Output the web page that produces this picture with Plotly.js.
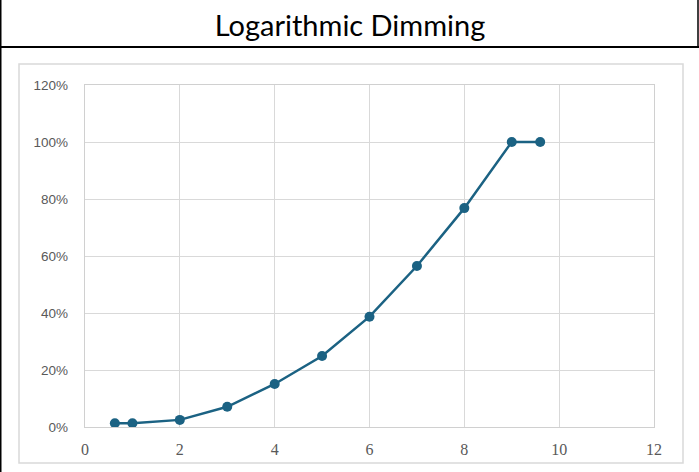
<!DOCTYPE html>
<html>
<head>
<meta charset="utf-8">
<script src="https://cdn.plot.ly/plotly-3.0.1.min.js"></script>
<style>html,body{margin:0;padding:0;background:#fff;}#chart{width:699px;height:472px;}</style>
</head>
<body>
<div id="chart"></div>
<script>
const chartTitle = "Logarithmic Dimming";
const stepValues = [0.63, 1, 2, 3, 4, 5, 6, 7, 8, 9, 9.6];
const brightness = [0.013, 0.013, 0.025, 0.071, 0.151, 0.249, 0.387, 0.565, 0.768, 1.0, 1.0];
const yTicks = [0, 0.2, 0.4, 0.6, 0.8, 1.0, 1.2];
const yTickLabels = ["0%", "20%", "40%", "60%", "80%", "100%", "120%"];
const xTicks = [0, 2, 4, 6, 8, 10, 12];

const W = 699, H = 472, L = 85, R = 654, T = 85, B = 427;
const px = v => (v - L) / (R - L);
const py = v => (B - v) / (B - T);

const trace = {
  x: stepValues, y: brightness, type: 'scatter', mode: 'lines+markers',
  line: {color: '#1b6283', width: 2.5},
  marker: {color: '#1b6283', size: 10},
  hoverinfo: 'x+y'
};

const layout = {
  width: W, height: H,
  margin: {l: L, r: W - R, t: T, b: H - B},
  paper_bgcolor: '#fff', plot_bgcolor: '#fff',
  showlegend: false,
  title: {text: chartTitle, x: 350 / W, xref: 'container', xanchor: 'center', y: 1 - 26 / H, yref: 'container', yanchor: 'middle',
          font: {family: 'Lato, "Open Sans", sans-serif', size: 29, color: '#000'}},
  xaxis: {range: [0, 12], tickvals: xTicks, ticktext: xTicks.map(String),
          showgrid: true, gridcolor: '#d9d9d9', gridwidth: 1, zeroline: false,
          showline: true, linecolor: '#d0d0d0', linewidth: 1.3, mirror: true,
          ticks: 'outside', ticklen: 7, tickcolor: 'rgba(0,0,0,0)',
          tickfont: {family: '"Liberation Serif", "DejaVu Serif", serif', size: 16, color: '#595959'}},
  yaxis: {range: [0, 1.2], tickvals: yTicks, ticktext: yTickLabels,
          showgrid: true, gridcolor: '#d9d9d9', gridwidth: 1, zeroline: false,
          showline: true, linecolor: '#d0d0d0', linewidth: 1.3, mirror: true,
          ticks: 'outside', ticklen: 13, tickcolor: 'rgba(0,0,0,0)',
          tickfont: {family: '"Liberation Sans", Arial, sans-serif', size: 13.5, color: '#595959'}},
  shapes: [
    {type: 'rect', xref: 'paper', yref: 'paper', x0: px(19), x1: px(683), y0: py(463), y1: py(64),
     line: {color: '#d9d9d9', width: 1.5}, layer: 'below'},
    {type: 'line', xref: 'paper', yref: 'paper', x0: px(0), x1: px(699), y0: py(47), y1: py(47),
     line: {color: '#000', width: 2}},
    {type: 'line', xref: 'paper', yref: 'paper', x0: px(0.75), x1: px(0.75), y0: py(472), y1: py(0),
     line: {color: '#000', width: 1.5}},
    {type: 'line', xref: 'paper', yref: 'paper', x0: px(698), x1: px(698), y0: py(47), y1: py(0),
     line: {color: '#000', width: 1.5}}
  ]
};

Plotly.newPlot('chart', [trace], layout, {displayModeBar: false, staticPlot: true});
</script>
</body>
</html>
